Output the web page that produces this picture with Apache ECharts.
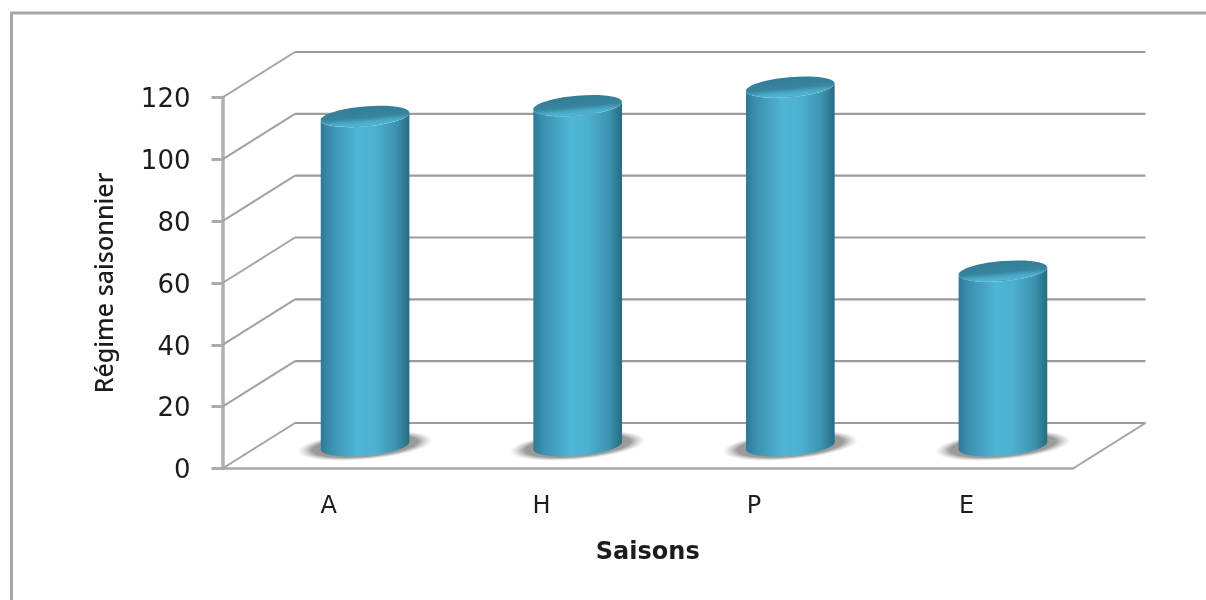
<!DOCTYPE html>
<html>
<head>
<meta charset="utf-8">
<style>html,body{margin:0;padding:0;background:#fff}#chart{width:1206px;height:600px}</style>
<script src="https://cdn.jsdelivr.net/npm/echarts@6/dist/echarts.min.js"></script>
</head>
<body>
<div id="chart"></div>
<script>
// Seasonal rainfall regime, one cylinder per season
const seasons = ['A', 'H', 'P', 'E'];
const regime = [106.5, 110, 116, 56.5];
const yTicks = [0, 20, 40, 60, 80, 100, 120];

// Oblique projection of the pseudo-3D box
const DEPTH_X = 72.5;
const DEPTH_Y = 45.5;
const RADIUS_X = 44.5;
const RADIUS_Y = 10;
const TILT = -5 * Math.PI / 180;

function ellipsePoint(cx, cy, rx, ry, t) {
  const c = Math.cos(t), s = Math.sin(t);
  return [
    cx + rx * c * Math.cos(TILT) - ry * s * Math.sin(TILT),
    cy + rx * c * Math.sin(TILT) + ry * s * Math.cos(TILT)
  ];
}

function frontArc(cx, cy, rx, ry, from, to) {
  const pts = [];
  for (let i = 0; i <= 40; i++) {
    pts.push(ellipsePoint(cx, cy, rx, ry, from + (to - from) * i / 40));
  }
  return pts;
}

function renderWall(params, api) {
  const sys = params.coordSys;
  const y = api.coord([0, api.value(0)])[1];
  const x0 = sys.x, x1 = sys.x + sys.width;
  const children = [{
    type: 'polyline',
    shape: { points: [[x0, y], [x0 + DEPTH_X, y - DEPTH_Y]] },
    style: { stroke: '#a2a2a2', lineWidth: 2, fill: null }
  }, {
    type: 'line',
    shape: { x1: x0 + DEPTH_X, y1: y - DEPTH_Y, x2: x1 + DEPTH_X, y2: y - DEPTH_Y },
    style: { stroke: '#9c9c9c', lineWidth: 2.2 }
  }];
  if (api.value(0) === 0) {
    children.push({
      type: 'line',
      shape: { x1: x1, y1: y, x2: x1 + DEPTH_X, y2: y - DEPTH_Y },
      style: { stroke: '#a2a2a2', lineWidth: 2 }
    });
  }
  return { type: 'group', children };
}

function renderCylinder(params, api) {
  const base = api.coord([api.value(0), 0]);
  const top = api.coord([api.value(0), api.value(1)]);
  const cx = base[0] + DEPTH_X / 2;
  const by = base[1] - DEPTH_Y / 2;
  const ty = top[1] - DEPTH_Y / 2;
  const body = frontArc(cx, by, RADIUS_X, RADIUS_Y, 0, Math.PI)
    .concat(frontArc(cx, ty, RADIUS_X, RADIUS_Y, Math.PI, 0));
  const bodyFill = new echarts.graphic.LinearGradient(0, 0, 1, 0, [
    { offset: 0, color: '#2c7a96' },
    { offset: 0.1, color: '#3a8ead' },
    { offset: 0.42, color: '#50b6d6' },
    { offset: 0.62, color: '#4db0cf' },
    { offset: 0.86, color: '#3b92ae' },
    { offset: 1, color: '#266b82' }
  ]);
  const lidFill = new echarts.graphic.LinearGradient(0, 0, 0, 1, [
    { offset: 0, color: '#327c97' },
    { offset: 0.55, color: '#38859f' },
    { offset: 0.76, color: '#48a8c5' },
    { offset: 0.92, color: '#4fb4d2' },
    { offset: 1, color: '#46a5c2' }
  ]);
  const shadowFill = new echarts.graphic.RadialGradient(0.5, 0.5, 0.5, [
    { offset: 0, color: 'rgba(145,145,145,1)' },
    { offset: 0.78, color: 'rgba(150,150,150,0.95)' },
    { offset: 1, color: 'rgba(190,190,190,0)' }
  ]);
  return {
    type: 'group',
    children: [{
      // soft cast shadow on the floor
      type: 'circle',
      shape: { cx: 0, cy: 0, r: 10 },
      x: cx, y: by, scaleX: 6.8, scaleY: 1.4, rotation: -TILT,
      style: { fill: shadowFill }
    }, {
      type: 'polygon',
      shape: { points: body },
      style: { fill: bodyFill }
    }, {
      type: 'ellipse',
      shape: { cx: cx, cy: ty, rx: RADIUS_X, ry: RADIUS_Y },
      originX: cx, originY: ty, rotation: -TILT,
      style: { fill: lidFill }
    }]
  };
}

const chart = echarts.init(document.getElementById('chart'), null, { renderer: 'canvas' });
chart.setOption({
  animation: false,
  backgroundColor: '#ffffff',
  graphic: [{
    type: 'rect',
    shape: { x: 11.5, y: 13, width: 1300, height: 700 },
    style: { fill: null, stroke: '#a6a6a6', lineWidth: 3 },
    silent: true
  }],
  grid: { left: 222.5, top: 97.5, width: 850.5, height: 371 },
  xAxis: {
    type: 'category',
    data: seasons,
    axisLine: { lineStyle: { color: '#a8a8a8', width: 2.5 } },
    axisTick: { show: false },
    axisLabel: { color: '#1c1c1c', fontFamily: 'DejaVu Sans', fontSize: 24, margin: 26 },
    name: 'Saisons',
    nameLocation: 'middle',
    nameGap: 72,
    nameTextStyle: { color: '#1c1c1c', fontFamily: 'DejaVu Sans', fontWeight: 'bold', fontSize: 24 }
  },
  yAxis: {
    type: 'value',
    min: 0,
    max: 120,
    interval: 20,
    axisLine: { show: true, lineStyle: { color: '#b0b0b0', width: 3.5 } },
    axisTick: { show: true, length: 11, lineStyle: { color: '#ababab', width: 3 } },
    splitLine: { show: false },
    axisLabel: {
      margin: 32,
      formatter: v => yTicks.includes(v) ? '{n|' + v + '}' : '',
      rich: {
        n: { color: '#1c1c1c', fontFamily: 'DejaVu Sans', fontSize: 26, padding: [6, 0, 0, 0] }
      }
    },
    name: 'Régime saisonnier',
    nameLocation: 'middle',
    nameGap: 104,
    nameRotate: 90,
    nameTextStyle: { color: '#1c1c1c', fontFamily: 'Noto Sans', fontWeight: 500, fontSize: 25 }
  },
  series: [{
    type: 'custom',
    coordinateSystem: 'cartesian2d',
    encode: { y: 0 },
    data: yTicks.map(v => [v]),
    renderItem: renderWall,
    z: 1,
    silent: true
  }, {
    type: 'custom',
    coordinateSystem: 'cartesian2d',
    encode: { x: 0, y: 1 },
    data: regime.map((v, i) => [i, v]),
    renderItem: renderCylinder,
    z: 3,
    silent: true
  }]
});
</script>
</body>
</html>
